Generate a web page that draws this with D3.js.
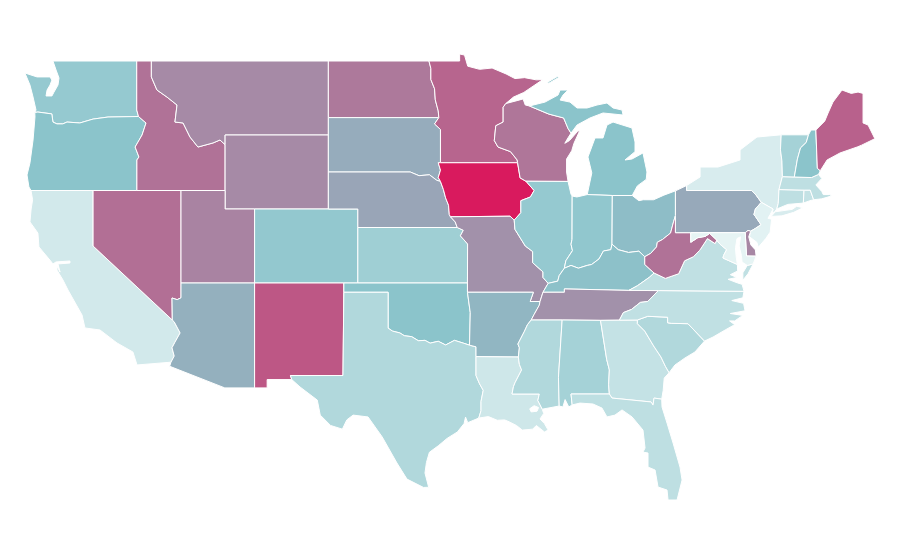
<!DOCTYPE html>
<html>
<head>
<meta charset="utf-8">
<script src="https://cdn.jsdelivr.net/npm/d3@7"></script>
<style>
  body { margin: 0; background: #fff; }
  path { stroke: #fff; stroke-width: 1; fill-rule: evenodd; stroke-linejoin: round; }
</style>
</head>
<body>
<div id="map"></div>
<script>
// state values
var stateNames = ["WA","OR","CA","ID","NV","MT","WY","UT","AZ","CO","NM","ND","SD","NE","KS","OK","TX","MN","IA","MO","AR","LA","WI","IL","MI","IN","OH","KY","TN","MS","AL","GA","FL","SC","NC","VA","WV","PA","NY","NJ","DE","MD","CT","RI","MA","VT","NH","ME"];
var stateValues = [45,50,15,74,75,67,67,69,56,46,82,72,57,59,40,50,31,78,100,65,54,17,73,45,50,47,52,51,65,31,37,22,25,31,24,24,74,58,12,7,68,5,25,22,25,37,50,79];

// shared borders as lon/lat, like the arcs of a topology
var arcs = {
  wa_coast: [[-122.72,49],[-122.51,48.51],[-122.31,48.08],[-122.38,47.7],[-122.65,47.32],[-122.79,47.11],[-123.19,47.11],[-123.12,47.43],[-122.92,47.7],[-122.79,47.97],[-122.92,48.14],[-123.8,48.14],[-124.62,48.35],[-124.28,47.7],[-124.07,47.05],[-123.87,46.35],[-123.95,46.22]],
  wa_north: [[-122.72,49],[-117.04,49]],
  wa_id: [[-117.04,49],[-117.04,46.35],[-116.92,46]],
  wa_or: [[-123.95,46.22],[-123.74,46.24],[-122.8,46.14],[-122.72,45.7],[-122.45,45.6],[-122.05,45.6],[-121.77,45.7],[-120.9,45.65],[-120,45.86],[-118.99,45.97],[-116.92,46]],
  or_id: [[-116.92,46],[-116.41,45.65],[-116.68,45],[-117.15,44.35],[-116.89,43.81],[-117.03,43.65],[-117.03,42]],
  or_coast: [[-123.95,46.22],[-123.94,45.97],[-124.07,44.73],[-124.28,43.49],[-124.48,42.84],[-124.35,42.19],[-124.21,42]],
  or_ca: [[-124.21,42],[-120,42]],
  or_nv: [[-120,42],[-117.03,42]],
  ca_coast: [[-124.21,42],[-124.1,41.5],[-124.2,41],[-124.28,40.3],[-123.74,39.7],[-123.67,38.95],[-122.93,38.24],[-122.72,38.03],[-122.51,38.14],[-121.57,38.19],[-121.57,38.08],[-122.38,38.03],[-122.24,37.59],[-122.45,37.92],[-122.45,37.7],[-122.04,37.16],[-121.7,36.62],[-120.75,35.27],[-120.55,34.57],[-119.53,34.46],[-118.38,33.76],[-117.3,33.27],[-117.02,32.57]],
  ca_mx: [[-117.02,32.57],[-114.72,32.72]],
  ca_az: [[-114.72,32.72],[-114.5,33.05],[-114.65,33.5],[-114.45,33.8],[-114.1,34.3],[-114.5,34.9],[-114.63,35]],
  ca_nv: [[-114.63,35],[-120,39],[-120,42]],
  nv_az: [[-114.63,35],[-114.65,36.19],[-114.3,36.1],[-114.04,36.2],[-114.04,37]],
  nv_ut: [[-114.04,37],[-114.04,42]],
  id_nv: [[-117.03,42],[-114.04,42]],
  id_ut: [[-114.04,42],[-111.05,42]],
  ut_wy: [[-111.05,42],[-111.05,41],[-109.05,41]],
  ut_co: [[-109.05,41],[-109.05,37]],
  ut_az: [[-114.04,37],[-109.05,37]],
  az_nm: [[-109.05,37],[-109.05,31.33]],
  az_mx: [[-109.05,31.33],[-111.07,31.33],[-114.81,32.5],[-114.72,32.72]],
  id_north: [[-117.04,49],[-116.05,49]],
  id_mt: [[-116.05,49],[-116.05,48.14],[-115.67,47.43],[-114.99,47.05],[-114.31,46.62],[-114.45,45.7],[-113.9,45.65],[-113.43,44.89],[-112.89,44.35],[-111.87,44.57],[-111.4,44.73],[-111.05,44.48]],
  id_wy: [[-111.05,44.48],[-111.05,42]],
  mt_wy: [[-104.05,45],[-111.05,45],[-111.05,44.48]],
  mt_north: [[-116.05,49],[-104.05,49]],
  mt_nd: [[-104.05,49],[-104.05,45.94]],
  mt_sd: [[-104.05,45.94],[-104.05,45]],
  wy_sd: [[-104.05,45],[-104.05,43]],
  wy_ne: [[-104.05,43],[-104.05,41]],
  wy_co: [[-109.05,41],[-104.05,41]],
  ne_co: [[-104.05,41],[-102.05,41],[-102.05,40]],
  co_ks: [[-102.05,40],[-102.05,37]],
  co_ok: [[-102.05,37],[-103,37]],
  nm_co: [[-103,37],[-109.05,37]],
  nm_ok: [[-103,37],[-103,36.5]],
  nm_tx: [[-103,36.5],[-103.06,32],[-106.62,32],[-106.53,31.78]],
  nm_mx: [[-106.53,31.78],[-108.2,31.78],[-108.2,31.33],[-109.05,31.33]],
  nd_north: [[-104.05,49],[-97.23,49]],
  nd_mn: [[-97.23,49],[-97.1,48.6],[-97.1,48],[-96.85,47.5],[-96.8,46.9],[-96.6,46.3],[-96.56,45.94]],
  nd_sd: [[-104.05,45.94],[-96.56,45.94]],
  sd_mn: [[-96.56,45.94],[-96.85,45.6],[-96.45,45.3],[-96.45,43.5]],
  sd_ia: [[-96.45,43.5],[-96.6,43.5],[-96.45,43.1],[-96.6,42.7],[-96.45,42.49]],
  sd_ne: [[-104.05,43],[-98.5,43],[-97.9,42.8],[-97.2,42.85],[-96.7,42.55],[-96.45,42.49]],
  ne_ia: [[-96.45,42.49],[-96.25,42.05],[-96.1,41.6],[-95.9,41.2],[-95.85,40.7],[-95.77,40.58]],
  ne_mo: [[-95.77,40.58],[-95.45,40.3],[-95.31,40]],
  ne_ks: [[-102.05,40],[-95.31,40]],
  ks_mo: [[-95.31,40],[-94.9,39.85],[-95.1,39.55],[-94.61,39.11],[-94.62,37]],
  ks_ok: [[-102.05,37],[-94.62,37]],
  ok_mo: [[-94.62,37],[-94.62,36.5]],
  ok_ar: [[-94.62,36.5],[-94.43,35.4],[-94.48,33.64]],
  ok_tx: [[-103,36.5],[-100,36.5],[-100,34.56],[-99.7,34.4],[-99.2,34.3],[-98.9,34.15],[-98.4,34.1],[-97.95,33.88],[-97.5,33.9],[-97.15,33.75],[-96.6,33.85],[-96.1,33.65],[-95.5,33.9],[-94.9,33.75],[-94.48,33.64]],
  ar_tx: [[-94.48,33.64],[-94.04,33.55],[-94.04,33.02]],
  ar_la: [[-94.04,33.02],[-91.17,33]],
  tx_la: [[-94.04,33.02],[-94.04,32],[-93.8,31.55],[-93.55,31.2],[-93.7,30.6],[-93.7,30.1],[-93.85,29.7]],
  tx_coast: [[-93.85,29.7],[-94.6,29.45],[-94.75,29.75],[-94.85,29.4],[-95.3,28.95],[-96,28.6],[-96.6,28.2],[-97.2,27.85],[-97.4,27.3],[-97.5,26.73],[-97.25,25.96],[-97.6,25.95],[-98.72,26.4],[-99.4,27.27],[-100.4,28.68],[-101.36,29.76],[-102.37,29.86],[-102.8,29.6],[-103.1,29.1],[-103.9,29.3],[-104.6,29.86],[-104.8,30.67],[-105.97,31.38],[-106.53,31.78]],
  la_coast: [[-89.55,30.18],[-89.45,29.95],[-89.7,29.65],[-89.4,29.4],[-89.15,29.05],[-89.4,28.95],[-89.95,29.3],[-90.2,29.1],[-90.9,29.05],[-91.3,29.3],[-91.8,29.5],[-92.1,29.6],[-92.6,29.58],[-93.2,29.78],[-93.85,29.7]],
  la_ms: [[-89.55,30.18],[-89.85,30.65],[-89.75,31],[-91.6,31],[-91.5,31.4],[-91.4,31.6],[-90.95,32.3],[-91.1,32.6],[-91.17,33]],
  ar_ms: [[-91.17,33],[-91.1,33.5],[-91.2,33.7],[-90.75,34.4],[-90.55,34.75],[-90.3,35]],
  ar_tn: [[-90.3,35],[-90.1,35.3],[-89.75,35.8],[-89.7,36]],
  mo_ar: [[-94.62,36.5],[-90.15,36.5],[-90.37,36],[-89.7,36]],
  mo_tn: [[-89.7,36],[-89.5,36.5]],
  mo_ky: [[-89.5,36.5],[-89.15,36.98]],
  mo_il: [[-89.15,36.98],[-89.5,37.3],[-89.5,37.6],[-90.2,38.1],[-90.2,38.7],[-90.7,39],[-91.4,39.9],[-91.45,40.4]],
  mo_ia: [[-95.77,40.58],[-91.73,40.61],[-91.45,40.4]],
  ia_il: [[-91.45,40.4],[-91,40.8],[-91,41.45],[-90.35,41.65],[-90.1,42],[-90.65,42.5]],
  ia_wi: [[-90.65,42.5],[-91.05,42.68],[-91.22,43.5]],
  ia_mn: [[-96.45,43.5],[-91.22,43.5]],
  mn_wi: [[-91.22,43.5],[-91.25,43.65],[-91.7,44.1],[-92.55,44.35],[-92.8,44.7],[-92.7,45.5],[-92.2,45.7],[-92.2,46.5],[-92.02,46.7]],
  mn_north: [[-97.23,49],[-95.15,49],[-95.15,49.38],[-94.82,49.32],[-94.6,48.72],[-93.8,48.55],[-92.95,48.62],[-92,48.3],[-91.4,48.05],[-90.75,48.1],[-89.95,47.98],[-89.5,48],[-90.8,47.3],[-91.5,47.05],[-92.02,46.7]],
  wi_sup: [[-92.02,46.7],[-91.2,46.87],[-90.85,46.95],[-90.7,46.62],[-90.42,46.57]],
  wi_mi: [[-90.42,46.57],[-89.1,46.13],[-88.1,45.92],[-87.8,45.35],[-87.6,45.1]],
  wi_lake: [[-87.6,45.1],[-87.8,44.85],[-88.02,44.55],[-87.7,44.7],[-87.15,45.2],[-87,45.25],[-87.4,44.55],[-87.55,44.15],[-87.9,43.7],[-87.9,43],[-87.8,42.49]],
  wi_il: [[-87.8,42.49],[-90.65,42.5]],
  il_lake: [[-87.8,42.49],[-87.6,41.8],[-87.52,41.7]],
  il_in: [[-87.52,41.7],[-87.53,39.35],[-87.6,39.1],[-87.5,38.75],[-87.95,38.2],[-88.05,37.8]],
  il_ky: [[-88.05,37.8],[-88.4,37.4],[-88.5,37.1],[-89.15,36.98]],
  in_lake: [[-87.52,41.7],[-87.2,41.65],[-86.5,41.78]],
  in_mi: [[-86.5,41.78],[-84.8,41.73]],
  in_oh: [[-84.8,41.73],[-84.82,39.1]],
  in_ky: [[-84.82,39.1],[-84.9,38.8],[-85.4,38.73],[-85.7,38.3],[-86.2,38],[-86.5,37.95],[-87.1,37.8],[-87.6,37.95],[-88.05,37.8]],
  oh_ky: [[-84.82,39.1],[-84.4,38.8],[-83.7,38.65],[-83,38.72],[-82.6,38.42]],
  oh_wv: [[-82.6,38.42],[-82.2,38.6],[-81.8,38.95],[-81.75,39.2],[-81.4,39.35],[-80.85,39.7],[-80.65,40.3],[-80.52,40.64]],
  oh_pa: [[-80.52,40.64],[-80.52,41.98]],
  oh_mi: [[-84.8,41.73],[-83.45,41.73]],
  oh_lake: [[-83.45,41.73],[-83,41.45],[-82.7,41.5],[-82,41.5],[-81.3,41.75],[-80.52,41.98]],
  mi_lower: [[-83.45,41.73],[-83.1,42.25],[-82.5,42.6],[-82.45,43],[-82.72,44.03],[-83.47,43.7],[-83.94,43.65],[-83.26,44.1],[-83.26,44.62],[-83.47,45.38],[-84.75,45.7],[-85.16,45.54],[-85.43,44.84],[-85.97,44.84],[-86.45,43.81],[-86.19,42.95],[-86.5,41.78]],
  mi_upper: [[-90.42,46.57],[-89.36,46.78],[-88.48,47.16],[-88.34,47.43],[-87.8,47.43],[-88.14,47.16],[-88.34,46.89],[-87.67,46.78],[-87.19,46.46],[-86.51,46.46],[-85.84,46.62],[-85.16,46.73],[-84.75,46.46],[-84.14,46.35],[-84.07,46.08],[-85.43,46.19],[-86.31,45.92],[-87.19,45.54],[-87.6,45.1]],
  pa_lake: [[-80.52,41.98],[-79.76,42.27]],
  pa_ny: [[-79.76,42.27],[-79.76,42],[-75.35,42],[-75.05,41.75],[-74.7,41.36]],
  pa_wv: [[-80.52,40.64],[-80.52,39.72],[-79.48,39.72]],
  pa_md: [[-79.48,39.72],[-75.79,39.72]],
  pa_de: [[-75.79,39.72],[-75.6,39.84],[-75.42,39.8]],
  pa_nj: [[-75.42,39.8],[-75.1,39.95],[-74.72,40.15],[-75.1,40.6],[-75.2,40.7],[-75.1,41],[-74.7,41.36]],
  ny_north: [[-79.76,42.27],[-78.85,42.73],[-78.85,43.27],[-77.63,43.27],[-76.14,43.65],[-76.14,44.19],[-74.99,44.89],[-73.35,45.01]],
  ny_vt: [[-73.35,45.01],[-73.4,44.2],[-73.3,43.6],[-73.27,42.75]],
  ny_ma: [[-73.27,42.75],[-73.5,42.05]],
  ny_ct: [[-73.5,42.05],[-73.55,41.3],[-73.65,41]],
  ny_coast: [[-73.65,41],[-73.8,40.85],[-73.95,40.75],[-73.9,41]],
  ny_nj: [[-73.9,41],[-74.7,41.36]],
  nj_coast: [[-73.9,41],[-74.1,40.7],[-74.25,40.5],[-74,40.45],[-74.1,39.75],[-74.4,39.4],[-74.9,38.93],[-75,39.2],[-75.5,39.5],[-75.42,39.8]],
  de_coast: [[-75.42,39.8],[-75.55,39.5],[-75.4,39.05],[-75.1,38.79],[-75.05,38.45]],
  de_md: [[-75.05,38.45],[-75.7,38.46],[-75.79,39.72]],
  md_coast: [[-75.05,38.45],[-75.25,38.03]],
  shore_md_va: [[-75.25,38.03],[-75.65,37.95]],
  md_bay: [[-75.65,37.95],[-76,38.13],[-76.05,38.5],[-76.2,39],[-76.1,39.5],[-76.35,39.4],[-76.45,38.9],[-76.4,38.4],[-76.32,38]],
  md_va: [[-76.32,38],[-77.3,38.35],[-77.25,38.5],[-77.05,38.8],[-77.5,39.1],[-77.72,39.32]],
  md_wv: [[-77.72,39.32],[-78.2,39.68],[-78.5,39.52],[-79,39.45],[-79.48,39.2],[-79.48,39.72]],
  va_shore: [[-75.25,38.03],[-75.6,37.5],[-75.95,37.15],[-75.95,37.55],[-75.65,37.95]],
  va_coast: [[-76.32,38],[-76.3,37.65],[-76.8,37.45],[-76.35,37.3],[-76.95,37.2],[-76.3,37],[-76,36.93],[-75.87,36.55]],
  va_nc: [[-75.87,36.55],[-81.68,36.59]],
  va_tn: [[-81.68,36.59],[-83.68,36.6]],
  va_ky: [[-83.68,36.6],[-83.1,36.85],[-82.3,37.3],[-81.97,37.54]],
  va_wv: [[-81.97,37.54],[-81.2,37.25],[-80.3,37.5],[-79.9,38.2],[-79.3,38.42],[-78.87,38.77],[-78.35,39.4],[-77.83,39.13],[-77.72,39.32]],
  ky_wv: [[-81.97,37.54],[-82.6,38],[-82.6,38.42]],
  ky_tn: [[-89.5,36.5],[-88.05,36.5],[-88.05,36.68],[-83.68,36.6]],
  tn_ms: [[-90.3,35],[-88.2,35]],
  tn_al: [[-88.2,35],[-85.6,34.98]],
  tn_ga: [[-85.6,34.98],[-84.32,34.99]],
  tn_nc: [[-84.32,34.99],[-84.05,35.4],[-83.5,35.57],[-82.9,35.95],[-82.4,36],[-81.68,36.59]],
  ms_al: [[-88.2,35],[-88.45,31.9],[-88.4,30.35]],
  ms_coast: [[-88.4,30.35],[-89.55,30.18]],
  al_coast: [[-88.4,30.35],[-88.15,30.3],[-88,30.7],[-87.75,30.3],[-87.52,30.41]],
  al_fl: [[-87.52,30.41],[-87.6,31],[-85,31]],
  al_ga: [[-85.6,34.98],[-85.18,32.87],[-85,32.3],[-85.05,31.5],[-85,31]],
  ga_fl: [[-85,31],[-84.82,30.78],[-82.17,30.57],[-82.04,30.4],[-81.97,30.78],[-81.45,30.72]],
  ga_coast: [[-81.45,30.72],[-81.35,31.2],[-81.28,31.86],[-80.95,32.15]],
  ga_sc: [[-80.95,32.15],[-81.2,32.5],[-81.5,33],[-82,33.6],[-82.6,34.4],[-83.1,34.8],[-83.1,35]],
  ga_nc: [[-83.1,35],[-84.32,34.99]],
  sc_nc: [[-83.1,35],[-82.4,35.2],[-81.05,35.15],[-81.05,34.85],[-80.8,34.82],[-79.67,34.8],[-78.55,33.86]],
  sc_coast: [[-78.55,33.86],[-79.2,33.27],[-79.87,32.95],[-80.55,32.57],[-80.95,32.15]],
  nc_coast: [[-75.87,36.55],[-75.95,36.2],[-76.7,36.05],[-75.9,35.9],[-75.8,35.5],[-76.8,35.35],[-75.95,35.25],[-76.5,34.95],[-76.85,34.95],[-76.5,34.75],[-77.15,34.46],[-77.97,34.08],[-78.55,33.86]],
  fl_coast: [[-87.52,30.41],[-86.99,30.51],[-86.11,30.46],[-85.5,30.24],[-85.16,29.76],[-84.62,29.86],[-84.14,30.14],[-83.46,29.76],[-82.72,29.05],[-82.58,28.08],[-82.72,27.86],[-82.38,27.81],[-82.38,27.05],[-81.9,26.89],[-81.7,25.97],[-81.09,25.81],[-81.02,25.27],[-80.41,25.27],[-80.07,26.35],[-80.21,27.05],[-80.68,28.35],[-81.09,29.43],[-81.43,30.3],[-81.45,30.72]],
  vt_north: [[-73.35,45.01],[-71.5,45.01]],
  vt_nh: [[-71.5,45.01],[-71.65,44.6],[-72.04,44.3],[-72.25,43.7],[-72.46,42.73]],
  vt_ma: [[-73.27,42.75],[-72.46,42.73]],
  nh_north: [[-71.5,45.01],[-71.33,45.27],[-71,45.27]],
  nh_me: [[-71,45.27],[-70.9,43.2],[-70.7,43.07]],
  nh_coast: [[-70.7,43.07],[-70.82,42.87]],
  nh_ma: [[-72.46,42.73],[-71.3,42.7],[-70.82,42.87]],
  me_coast: [[-71,45.27],[-70.4,45.75],[-70.17,46.19],[-69.84,46.78],[-69.23,47.43],[-68.6,47.25],[-68.14,47.32],[-67.8,47.25],[-67.8,45.65],[-67.46,45.54],[-67,44.8],[-67.9,44.45],[-68.2,44.35],[-69.36,44.03],[-70.24,43.65],[-70.7,43.07]],
  ma_coast: [[-70.82,42.87],[-70.6,42.65],[-71,42.3],[-70.6,41.95],[-70.5,41.78],[-70.05,41.78],[-69.95,41.7],[-70.6,41.55],[-71.15,41.5]],
  ma_ri: [[-71.15,41.5],[-71.38,42.02],[-71.8,42.02]],
  ma_ct: [[-73.5,42.05],[-71.8,42.02]],
  ct_ri: [[-71.8,42.02],[-71.85,41.32]],
  ri_coast: [[-71.85,41.32],[-71.4,41.45],[-71.15,41.5]],
  ct_coast: [[-71.85,41.32],[-72.9,41.25],[-73.65,41]],
  long_island: [[-74.03,40.6],[-73.75,40.85],[-72.6,40.98],[-72.3,41.15],[-71.87,41.07],[-72.5,40.82],[-73.3,40.63],[-74.03,40.6]],
  isle_royale: [[-89.2,47.85],[-88.5,48.17],[-88.45,48.1],[-89.1,47.8],[-89.2,47.85]],
  pontchartrain: [[-90.4,30.2],[-90.1,30.37],[-89.8,30.27],[-89.9,30.07],[-90.3,30.03],[-90.4,30.2]]
};

// each state is a list of polygons, each polygon a list of rings, each ring a list of arcs
var stateRings = {
  WA: [[["wa_coast","wa_or","wa_id","wa_north"]]],
  OR: [[["or_coast","wa_or","or_id","or_nv","or_ca"]]],
  CA: [[["or_ca","ca_nv","ca_az","ca_mx","ca_coast"]]],
  ID: [[["id_north","id_mt","id_wy","id_ut","id_nv","or_id","wa_id"]]],
  NV: [[["nv_ut","id_nv","or_nv","ca_nv","nv_az"]]],
  MT: [[["mt_north","mt_nd","mt_sd","mt_wy","id_mt"]]],
  WY: [[["mt_wy","id_wy","ut_wy","wy_co","wy_ne","wy_sd"]]],
  UT: [[["id_ut","ut_wy","ut_co","ut_az","nv_ut"]]],
  AZ: [[["ut_az","az_nm","az_mx","ca_az","nv_az"]]],
  CO: [[["wy_co","ne_co","co_ks","co_ok","nm_co","ut_co"]]],
  NM: [[["nm_co","nm_ok","nm_tx","nm_mx","az_nm"]]],
  ND: [[["mt_nd","nd_north","nd_mn","nd_sd"]]],
  SD: [[["nd_sd","sd_mn","sd_ia","sd_ne","wy_sd","mt_sd"]]],
  NE: [[["wy_ne","ne_co","ne_ks","ne_mo","ne_ia","sd_ne"]]],
  KS: [[["ne_ks","ks_mo","ks_ok","co_ks"]]],
  OK: [[["nm_ok","co_ok","ks_ok","ok_mo","ok_ar","ok_tx"]]],
  TX: [[["ok_tx","ar_tx","tx_la","tx_coast","nm_tx"]]],
  MN: [[["mn_north","mn_wi","ia_mn","sd_mn","nd_mn"]]],
  IA: [[["ia_mn","ia_wi","ia_il","mo_ia","ne_ia","sd_ia"]]],
  MO: [[["mo_ia","ne_mo","ks_mo","ok_mo","mo_ar","mo_tn","mo_ky","mo_il"]]],
  AR: [[["mo_ar","ar_tn","ar_ms","ar_la","ar_tx","ok_ar"]]],
  LA: [[["ar_la","la_ms","la_coast","tx_la"],["pontchartrain"]]],
  WI: [[["mn_wi","wi_sup","wi_mi","wi_lake","wi_il","ia_wi"]]],
  IL: [[["wi_il","il_lake","il_in","il_ky","mo_il","ia_il"]]],
  MI: [[["in_mi","oh_mi","mi_lower"]],[["wi_mi","mi_upper"]],[["isle_royale"]]],
  IN: [[["il_in","in_lake","in_mi","in_oh","in_ky"]]],
  OH: [[["in_oh","oh_mi","oh_lake","oh_pa","oh_wv","oh_ky"]]],
  KY: [[["mo_ky","il_ky","in_ky","oh_ky","ky_wv","va_ky","ky_tn"]]],
  TN: [[["ky_tn","va_tn","tn_nc","tn_ga","tn_al","tn_ms","ar_tn","mo_tn"]]],
  MS: [[["tn_ms","ms_al","ms_coast","la_ms","ar_ms"]]],
  AL: [[["tn_al","al_ga","al_fl","al_coast","ms_al"]]],
  GA: [[["tn_ga","ga_nc","ga_sc","ga_coast","ga_fl","al_ga"]]],
  FL: [[["ga_fl","al_fl","fl_coast"]]],
  SC: [[["ga_sc","sc_nc","sc_coast"]]],
  NC: [[["va_nc","tn_nc","ga_nc","sc_nc","nc_coast"]]],
  VA: [[["va_coast","va_nc","va_tn","va_ky","va_wv","md_va"]],[["shore_md_va","va_shore"]]],
  WV: [[["oh_wv","pa_wv","md_wv","va_wv","ky_wv"]]],
  PA: [[["oh_pa","pa_lake","pa_ny","pa_nj","pa_de","pa_md","pa_wv"]]],
  NY: [[["pa_ny","ny_nj","ny_coast","ny_ct","ny_ma","ny_vt","ny_north"]],[["long_island"]]],
  NJ: [[["ny_nj","nj_coast","pa_nj"]]],
  DE: [[["pa_de","de_coast","de_md"]]],
  MD: [[["pa_md","de_md","md_coast","shore_md_va","md_bay","md_va","md_wv"]]],
  CT: [[["ma_ct","ct_ri","ct_coast","ny_ct"]]],
  RI: [[["ma_ri","ct_ri","ri_coast"]]],
  MA: [[["vt_ma","nh_ma","ma_coast","ma_ri","ma_ct","ny_ma"]]],
  VT: [[["ny_vt","vt_north","vt_nh","vt_ma"]]],
  NH: [[["vt_nh","nh_north","nh_me","nh_coast","nh_ma"]]],
  ME: [[["nh_me","me_coast"]]]
};

var svgWidth = 900;
var svgHeight = 560;

var svg = d3.select("#map")
  .append("svg")
  .attr("width", svgWidth)
  .attr("height", svgHeight);

// the map is a plain lon/lat grid, stretched north-south
var xScale = d3.scaleLinear().domain([-114.04, -66.95]).range([181, 875.6]);
var yScale = d3.scaleLinear().domain([49, 25.13]).range([61, 502.6]);

var colorScale = d3.scaleLinear()
  .domain([0, 50, 100])
  .range(["#f0f9f9", "#8bc4cb", "#d91a5e"]);

var path = d3.geoPath().projection(d3.geoTransform({
  point: function(x, y) { this.stream.point(xScale(x), yScale(y)); }
}));

function same(a, b) { return a[0] === b[0] && a[1] === b[1]; }

// join arcs end to end, flipping any that run the wrong way
function buildRing(names) {
  if (names.length === 1) return arcs[names[0]];
  var first = arcs[names[0]];
  var next = arcs[names[1]];
  var end = first[first.length - 1];
  var ring = (same(end, next[0]) || same(end, next[next.length - 1])) ? first.slice() : first.slice().reverse();
  names.slice(1).forEach(function(name) {
    var arc = arcs[name];
    var last = ring[ring.length - 1];
    if (same(last, arc[0])) ring = ring.concat(arc.slice(1));
    else if (same(last, arc[arc.length - 1])) ring = ring.concat(arc.slice().reverse().slice(1));
    else throw new Error("arc " + name + " does not join in " + names.join(","));
  });
  if (!same(ring[0], ring[ring.length - 1])) throw new Error("open ring " + names.join(","));
  return ring;
}

var features = stateNames.map(function(name, i) {
  return {
    type: "Feature",
    properties: { name: name, value: stateValues[i] },
    geometry: {
      type: "MultiPolygon",
      coordinates: stateRings[name].map(function(polygon) { return polygon.map(buildRing); })
    }
  };
});

svg.selectAll("path")
  .data(features)
  .enter()
  .append("path")
  .attr("d", path)
  .attr("fill", function(d) { return colorScale(d.properties.value); });
</script>
</body>
</html>
